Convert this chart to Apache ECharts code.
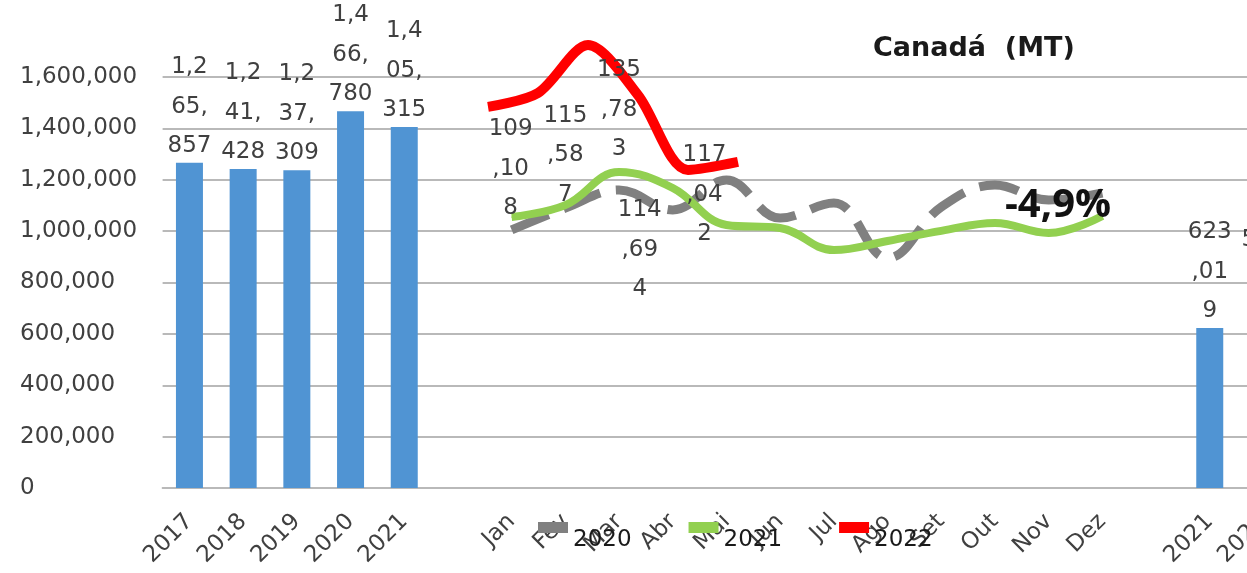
<!DOCTYPE html>
<html>
<head>
<meta charset="utf-8">
<script src="https://cdn.jsdelivr.net/npm/echarts@6/dist/echarts.min.js"></script>
<style>
  html, body { margin: 0; padding: 0; background: #fff; }
  #chart { width: 1247px; height: 573px; }
</style>
</head>
<body>
<div id="chart"></div>
<script>
// eixo X: anos, meses, acumulado jan-mai
const anos = ['2017', '2018', '2019', '2020', '2021']
const meses = ['Jan', 'Fev', 'Mar', 'Abr', 'Mai', 'Jun', 'Jul', 'Ago', 'Set', 'Out', 'Nov', 'Dez']
const anosAcum = ['2021', '2022']

// barras (MT)
const totaisAnuais = [1265857, 1241428, 1237309, 1466780, 1405315]
const acumulado = [623019, 592214]

// linhas mensais (eixo secundario)
const mensal2020 = [113000, 122600, 130500, 121800, 134900, 118200, 124800, 100700, 123100, 132700, 126100, 129200]
const mensal2021 = [118700, 123900, 138400, 131400, 115200, 113900, 104200, 108200, 112600, 116100, 111700, 119100]
const pos2022 = [0, 1, 2, 3, 4, 5]
const linha2022 = [166900, 173000, 194000, 172100, 139300, 142800]
const rotulos2022 = [109108, 115587, 135783, 114694, 117042]
const yTicks = [0, 1600000, 200000]

// deslocamento dos rotulos 2022 (px)
const desloc = [[-1, -48], [0, -50], [0, -62], [-33, 62], [-22, -30]]

const FONT = 'DejaVu Sans'
const TXT = '#404040'

const categorias = [...anos, '', ...meses, '', ...anosAcum]
const barData = [...totaisAnuais, null, ...meses.map(() => null), null, ...acumulado]
const pad = (arr) => [...anos.map(() => null), null, ...arr, null, ...anosAcum.map(() => null)]

function quebra(v) {
  const s = Number(v).toLocaleString('en-US')
  return s.match(/.{1,3}/g).join('\n')
}

const data2021 = pad(mensal2021).map((v, i) => {
  const k = i - anos.length - 1
  if (k >= 0 && k < rotulos2022.length) {
    return {
      value: v,
      label: {
        show: true,
        position: 'inside',
        offset: desloc[k],
        formatter: () => quebra(rotulos2022[k]),
      },
    }
  }
  return v
})

const chart = echarts.init(document.getElementById('chart'))
chart.setOption({
  animation: false,
  title: [
    {
      text: 'Canadá  (MT)', left: 873, top: 35, padding: 0,
      textStyle: { fontFamily: FONT, fontWeight: 'bold', fontSize: 27, color: '#1a1a1a' },
    },
    {
      text: '-4,9%', left: 1005, top: 186, padding: 0,
      textStyle: { fontFamily: 'Open Sans', fontWeight: 'bold', fontSize: 40, color: '#111' },
    },
  ],
  legend: {
    data: ['2020', '2021', '2022'],
    left: 538, top: 522, padding: 0,
    icon: 'rect', itemWidth: 30, itemHeight: 11, itemGap: 57,
    formatter: '{t|{name}}',
    textStyle: {
      fontFamily: FONT, fontSize: 23, color: '#1a1a1a',
      rich: { t: { fontFamily: FONT, fontSize: 23, color: '#1a1a1a', padding: [26, 0, 0, 0] } },
    },
  },
  grid: { left: 162.6, right: -43.3, top: 77, bottom: 85, outerBoundsMode: 'none' },
  xAxis: [
    {
      type: 'category',
      data: categorias,
      axisTick: { show: false },
      axisLine: { lineStyle: { color: '#b9b9b9', width: 2 } },
      axisLabel: { interval: 0, rotate: 45, margin: 30, fontFamily: FONT, fontSize: 23, color: TXT },
    },
    { type: 'value', min: -6.508, max: 16.046, show: false },
  ],
  yAxis: [
    {
      type: 'value', min: yTicks[0], max: yTicks[1], interval: yTicks[2],
      axisLine: { show: false }, axisTick: { show: false },
      splitLine: { lineStyle: { color: '#b9b9b9', width: 2 } },
      axisLabel: {
        align: 'left', margin: 142.6, fontFamily: FONT, fontSize: 23, color: TXT,
        formatter: (v) => v.toLocaleString('en-US'),
      },
    },
    { type: 'value', min: 0, max: 180000, show: false, splitLine: { show: false } },
  ],
  series: [
    {
      type: 'bar', data: barData, barWidth: 27,
      itemStyle: { color: '#5094d3' },
      label: {
        show: true, position: 'top', distance: -3,
        fontFamily: FONT, fontSize: 23, color: TXT, lineHeight: 39.5,
        formatter: (p) => quebra(p.value),
      },
    },
    {
      name: '2020', type: 'line', yAxisIndex: 1, data: pad(mensal2020),
      smooth: 0.4, symbol: 'none',
      itemStyle: { color: '#808080' },
      lineStyle: { color: '#808080', width: 9, type: [40, 16] },
    },
    {
      name: '2021', type: 'line', yAxisIndex: 1, data: data2021,
      smooth: 0.4, symbol: 'circle', symbolSize: 1,
      itemStyle: { color: '#92d050' },
      lineStyle: { color: '#92d050', width: 8 },
      label: { show: false, fontFamily: FONT, fontSize: 23, color: TXT, lineHeight: 39.5 },
    },
    {
      name: '2022', type: 'line', xAxisIndex: 1, yAxisIndex: 1,
      data: pos2022.map((m, i) => [m, linha2022[i]]),
      smooth: 0.3, symbol: 'none', clip: false,
      itemStyle: { color: '#ff0000' },
      lineStyle: { color: '#ff0000', width: 10 },
    },
  ],
})
</script>
</body>
</html>
